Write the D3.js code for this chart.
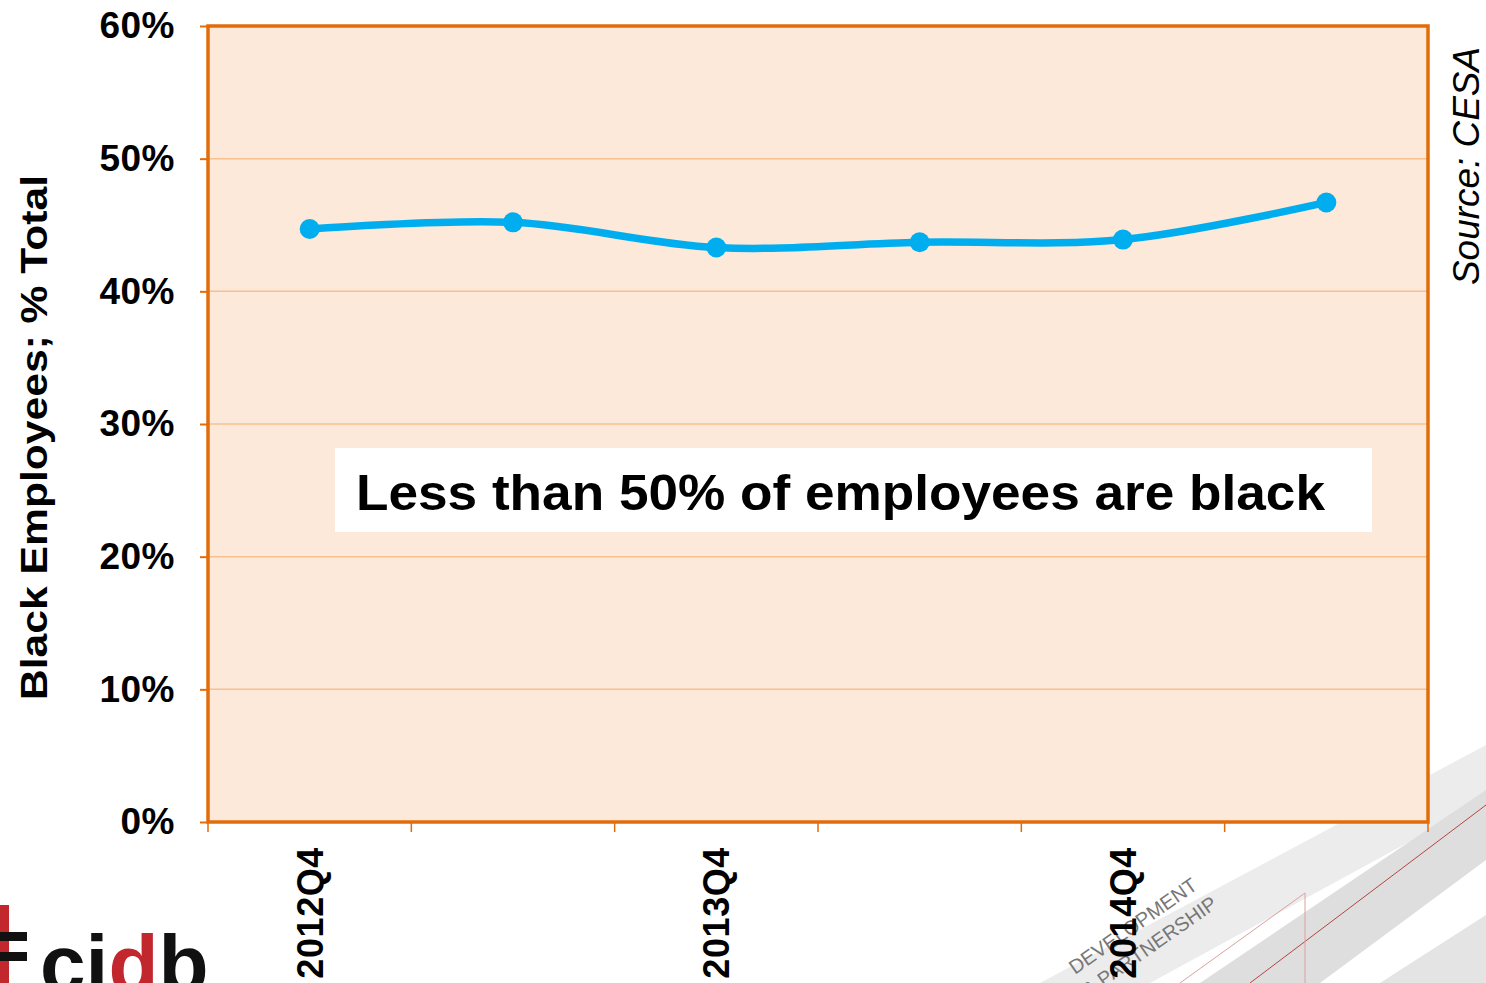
<!DOCTYPE html>
<html>
<head>
<meta charset="utf-8">
<script src="https://cdn.jsdelivr.net/npm/d3@7"></script>
<style>
  body { margin: 0; background: #fff; }
  svg text { font-family: Arial, "Liberation Sans", sans-serif; }
</style>
</head>
<body>
<div id="chart"></div>
<script>
// data
const categories = ["2012Q4", "2013Q2", "2013Q4", "2014Q2", "2014Q4", "2015Q2"];
const tickLabels = ["2012Q4", "", "2013Q4", "", "2014Q4", ""];
const blackShare = [44.7, 45.2, 43.3, 43.7, 43.9, 46.7];
const yTicks = [0, 10, 20, 30, 40, 50, 60];

const width = 1486, height = 983;
const margin = { top: 26, right: 58, bottom: 161, left: 208 };

const svg = d3.select("#chart").append("svg")
  .attr("width", width)
  .attr("height", height);

// background watermark (bottom right)
const wm = svg.append("g");
wm.append("polygon").attr("points", "1040,983 1486,745 1486,800 1150,983").attr("fill", "#ececec");
wm.append("polygon").attr("points", "1200,983 1486,790 1486,860 1320,983").attr("fill", "#dedede");
wm.append("polygon").attr("points", "1380,983 1486,915 1486,983").attr("fill", "#e4e4e4");
wm.append("line").attr("x1", 1250).attr("y1", 983).attr("x2", 1486).attr("y2", 805)
  .attr("stroke", "#b5453f").attr("stroke-width", 1);
wm.append("line").attr("x1", 1180).attr("y1", 983).attr("x2", 1305).attr("y2", 893)
  .attr("stroke", "#d9a29e").attr("stroke-width", 1);
wm.append("line").attr("x1", 1305).attr("y1", 893).attr("x2", 1305).attr("y2", 983)
  .attr("stroke", "#d9a29e").attr("stroke-width", 1);
wm.append("text")
  .attr("transform", "translate(1075,975) rotate(-35)")
  .attr("font-size", 20).attr("fill", "#777")
  .text("DEVELOPMENT");
wm.append("text")
  .attr("transform", "translate(1088,998) rotate(-35)")
  .attr("font-size", 20).attr("fill", "#777")
  .text("& PARTNERSHIP");

const x = d3.scaleBand()
  .domain(categories)
  .range([margin.left, width - margin.right]);

const y = d3.scaleLinear()
  .domain([0, 60])
  .range([height - margin.bottom, margin.top]);

// plot area
svg.append("rect")
  .attr("x", margin.left).attr("y", margin.top)
  .attr("width", width - margin.left - margin.right)
  .attr("height", height - margin.top - margin.bottom)
  .attr("fill", "#fce9da");

// gridlines
svg.append("g")
  .selectAll("line")
  .data(yTicks.slice(1, -1))
  .join("line")
  .attr("x1", margin.left).attr("x2", width - margin.right)
  .attr("y1", d => y(d)).attr("y2", d => y(d))
  .attr("stroke", "#f9c08f").attr("stroke-width", 1.5);

// y axis
const yAxis = svg.append("g")
  .attr("transform", `translate(${margin.left},0)`)
  .call(d3.axisLeft(y).tickValues(yTicks).tickFormat(d => d + "%").tickSize(8).tickPadding(25));
yAxis.select(".domain").remove();
yAxis.selectAll("line").attr("stroke", "#e36c0a").attr("stroke-width", 2);
yAxis.selectAll("text")
  .attr("font-size", 37).attr("font-weight", "bold").attr("fill", "#000")
  .attr("letter-spacing", 0.5)
  .attr("font-family", "Arial, 'Liberation Sans', sans-serif");

// x axis ticks at band edges
const edges = categories.map(c => x(c)).concat([x.range()[1]]);
svg.append("g")
  .selectAll("line")
  .data(edges)
  .join("line")
  .attr("x1", d => d).attr("x2", d => d)
  .attr("y1", y(0)).attr("y2", y(0) + 10)
  .attr("stroke", "#e36c0a").attr("stroke-width", 1.5);

svg.append("g")
  .selectAll("text")
  .data(categories)
  .join("text")
  .attr("transform", d => `translate(${x(d) + x.bandwidth() / 2 + 13},${y(0) + 25}) rotate(-90)`)
  .attr("text-anchor", "end")
  .attr("font-size", 36).attr("font-weight", "bold").attr("fill", "#000")
  .attr("letter-spacing", 0.6)
  .text((d, i) => tickLabels[i]);

// frame
svg.append("rect")
  .attr("x", margin.left).attr("y", margin.top)
  .attr("width", width - margin.left - margin.right)
  .attr("height", height - margin.top - margin.bottom)
  .attr("fill", "none")
  .attr("stroke", "#e36c0a").attr("stroke-width", 3.5);

// annotation box
svg.append("rect")
  .attr("x", 335).attr("y", 448).attr("width", 1037).attr("height", 84)
  .attr("fill", "#fff");
svg.append("text")
  .attr("x", 356).attr("y", 510)
  .attr("font-size", 50).attr("font-weight", "bold").attr("fill", "#000")
  .attr("textLength", 969).attr("lengthAdjust", "spacingAndGlyphs")
  .text("Less than 50% of employees are black");

// line
const line = d3.line()
  .x((d, i) => x(categories[i]) + x.bandwidth() / 2)
  .y(d => y(d))
  .curve(d3.curveCatmullRom.alpha(0.5));

svg.append("path")
  .datum(blackShare)
  .attr("d", line)
  .attr("fill", "none")
  .attr("stroke", "#00aeef")
  .attr("stroke-width", 7.5)
  .attr("stroke-linecap", "round");

svg.append("g")
  .selectAll("circle")
  .data(blackShare)
  .join("circle")
  .attr("cx", (d, i) => x(categories[i]) + x.bandwidth() / 2)
  .attr("cy", d => y(d))
  .attr("r", 10)
  .attr("fill", "#00aeef");

// axis title
svg.append("text")
  .attr("transform", "translate(47,700) rotate(-90)")
  .attr("font-size", 37).attr("font-weight", "bold").attr("fill", "#000")
  .attr("textLength", 525).attr("lengthAdjust", "spacingAndGlyphs")
  .text("Black Employees; % Total");

// source
svg.append("text")
  .attr("transform", "translate(1479,285) rotate(-90)")
  .attr("font-size", 36).attr("font-style", "italic").attr("fill", "#000")
  .attr("textLength", 238).attr("lengthAdjust", "spacingAndGlyphs")
  .text("Source: CESA");

// logo, bottom left
const logo = svg.append("g");
logo.append("rect").attr("x", 0).attr("y", 905).attr("width", 9).attr("height", 78).attr("fill", "#c1272d");
logo.append("rect").attr("x", 0).attr("y", 932).attr("width", 27).attr("height", 9).attr("fill", "#111");
logo.append("rect").attr("x", 0).attr("y", 952).attr("width", 27).attr("height", 9).attr("fill", "#111");
logo.append("text")
  .attr("x", 40).attr("y", 992)
  .attr("font-size", 82).attr("font-weight", "bold").attr("fill", "#111")
  .call(t => {
    t.append("tspan").text("ci");
    t.append("tspan").attr("fill", "#c1272d").text("d");
    t.append("tspan").text("b");
  });
</script>
</body>
</html>
